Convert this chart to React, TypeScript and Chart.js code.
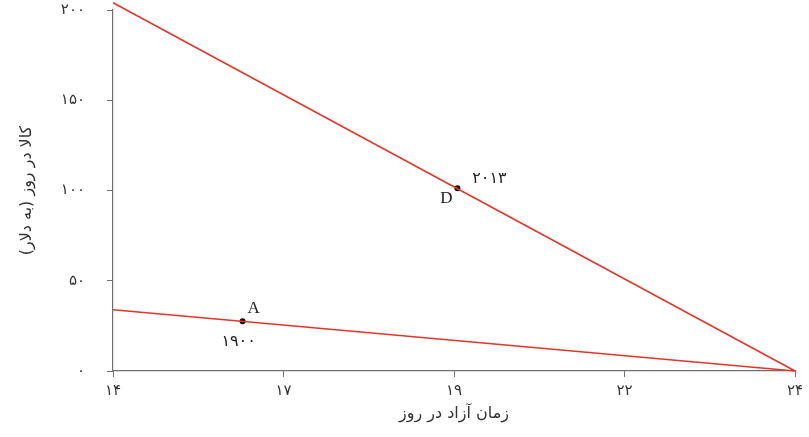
import { useEffect, useRef } from "react";
import { Chart, registerables } from "chart.js";

Chart.register(...registerables);

// x positions are tick indexes (the axis is evenly spaced)
const xTickLabels = ["۱۴", "۱۷", "۱۹", "۲۲", "۲۴"];
const yTickLabels = ["۰", "۵۰", "۱۰۰", "۱۵۰", "۲۰۰"];
const yTickValues = [0, 50, 100, 150, 200];

const line2013X = [0, 4];
const line2013Y = [204, 0];
const line1900X = [0, 4];
const line1900Y = [34, 0];

const pointNames = ["D", "A"];
const pointYears = ["۲۰۱۳", "۱۹۰۰"];
const pointX = [2.02, 0.76];
const pointY = [101.2, 27.5];

const xTitle = "زمان آزاد در روز";
const yTitle = "کالا در روز (به دلار)";

const RED = "#e3352b";
const AXIS = "#707070";
const TEXT = "#333333";

// label offsets (px) relative to each point: [name dx, name dy, year dx, year dy]
const labelOffsets = [
  [-11, 10, 32, -9],
  [11, -13, -4, 20],
];

const pointLabels = {
  id: "pointLabels",
  afterDatasetsDraw(chart: any) {
    const { ctx, scales } = chart;
    ctx.save();
    ctx.textAlign = "center";
    ctx.textBaseline = "middle";
    pointNames.forEach((name, i) => {
      const px = scales.x.getPixelForValue(pointX[i]);
      const py = scales.y.getPixelForValue(pointY[i]);
      const [ndx, ndy, ydx, ydy] = labelOffsets[i];
      ctx.fillStyle = "#222";
      ctx.font = "17px 'Liberation Serif', serif";
      ctx.fillText(name, px + ndx, py + ndy);
      ctx.font = "16px 'DejaVu Sans', sans-serif";
      ctx.fillText(pointYears[i], px + ydx, py + ydy);
    });
    ctx.restore();
  },
};

export default function App() {
  const canvasRef = useRef<HTMLCanvasElement | null>(null);

  useEffect(() => {
    if (!canvasRef.current) return;
    const chart = new Chart(canvasRef.current, {
      type: "scatter",
      data: {
        datasets: [
          {
            data: line2013X.map((x, i) => ({ x, y: line2013Y[i] })),
            showLine: true,
            borderColor: RED,
            borderWidth: 1.5,
            pointRadius: 0,
            clip: false,
          },
          {
            data: line1900X.map((x, i) => ({ x, y: line1900Y[i] })),
            showLine: true,
            borderColor: RED,
            borderWidth: 1.5,
            pointRadius: 0,
            clip: false,
          },
          {
            data: pointX.map((x, i) => ({ x, y: pointY[i] })),
            showLine: false,
            pointRadius: 3,
            pointBackgroundColor: "#111",
            pointBorderWidth: 0,
          },
        ],
      },
      options: {
        responsive: true,
        maintainAspectRatio: false,
        animation: false,
        layout: { padding: { top: 10, right: 14, left: 0, bottom: 0 } },
        plugins: { legend: { display: false }, tooltip: { enabled: false } },
        scales: {
          x: {
            type: "linear",
            min: 0,
            max: 4,
            afterBuildTicks: (s: any) => {
              s.ticks = xTickLabels.map((_, i) => ({ value: i }));
            },
            afterFit: (s: any) => {
              s.height = 66;
              s.paddingLeft = 0;
              s.paddingRight = 0;
            },
            grid: { drawOnChartArea: false, drawTicks: true, tickLength: 6, color: AXIS },
            border: { display: true, color: AXIS, width: 1.2 },
            ticks: {
              padding: 5,
              color: TEXT,
              font: { family: "'DejaVu Sans', sans-serif", size: 15 },
              callback: (v: any) => xTickLabels[Math.round(Number(v))] ?? "",
            },
            title: {
              display: true,
              text: xTitle,
              color: TEXT,
              padding: { top: 4, bottom: 14 },
              font: { family: "'DejaVu Sans', sans-serif", size: 16 },
            },
          },
          y: {
            type: "linear",
            min: 0,
            max: 200,
            afterBuildTicks: (s: any) => {
              s.ticks = yTickValues.map((value) => ({ value }));
            },
            afterFit: (s: any) => {
              s.width = 113;
              s.paddingTop = 0;
              s.paddingBottom = 0;
            },
            grid: { drawOnChartArea: false, drawTicks: true, tickLength: 6, color: AXIS },
            border: { display: true, color: AXIS, width: 1.2 },
            ticks: {
              padding: 22,
              color: TEXT,
              font: { family: "'DejaVu Sans', sans-serif", size: 15 },
              callback: (v: any) => yTickLabels[yTickValues.indexOf(Number(v))] ?? "",
            },
            title: {
              display: true,
              text: yTitle,
              color: TEXT,
              padding: { top: 17, bottom: 4 },
              font: { family: "'DejaVu Sans', sans-serif", size: 16 },
            },
          },
        },
      },
      plugins: [pointLabels],
    });
    return () => {
      chart.destroy();
    };
  }, []);

  return (
    <div style={{ position: "absolute", left: 0, top: 0, width: 809, height: 437, background: "#fff" }}>
      <canvas ref={canvasRef} />
    </div>
  );
}
